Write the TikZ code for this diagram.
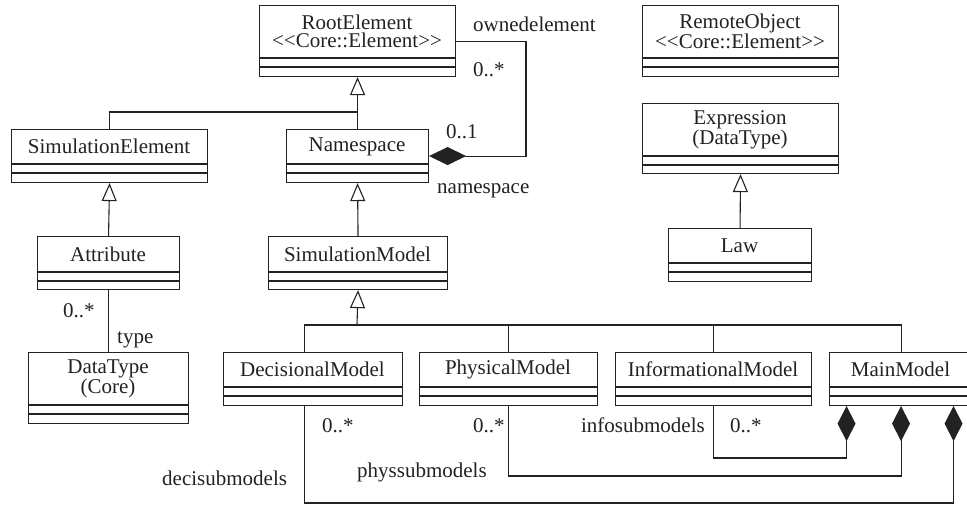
\documentclass[tikz,border=0pt]{standalone}
\usepackage{fontspec}
\setmainfont{Liberation Serif}
\usetikzlibrary{arrows.meta}
\definecolor{ink}{HTML}{222222}
\tikzset{
  umlline/.style={line width=1.1pt, draw=ink},
  gen/.style={umlline, -{Triangle[open, length=18pt, width=15pt, fill=white]}},
  compH/.style={umlline, {Diamond[length=37pt, width=18pt, fill=ink]}-},
  compV/.style={umlline, {Diamond[length=35pt, width=18pt, fill=ink]}-},
  lbl/.style={font=\fontsize{21}{18}\selectfont, inner sep=0pt, text=ink},
  classtext/.style={font=\fontsize{21}{18.5}\selectfont, align=center, inner sep=0pt, text=ink},
}
\newcommand\umlclass[8]{%
  \node[umlline, draw, rectangle, inner sep=0pt, anchor=north west,
        minimum width={(#4-#2)*1pt}, minimum height={(#7-#3)*1pt}] (#1) at (#2,#3) {};
  \draw[umlline] (#2,#5) -- (#4,#5) (#2,#6) -- (#4,#6);
  \node[classtext] (#1-t) at ({(#2+#4)/2},{(#3+#5)/2}) {#8};
}
\newcommand\stereo[1]{\textless{}\textless{}#1\textgreater{}\textgreater{}}
\begin{document}
\begin{tikzpicture}[x=1pt,y=-1pt]
\clip (0,0) rectangle (967,506);
\fill[white] (0,0) rectangle (967,506);
% classes
\umlclass{root}{259}{5}{455}{58}{67}{76}{RootElement\\\stereo{Core::Element}}
\umlclass{remote}{642}{5}{838}{58}{67}{76}{RemoteObject\\\stereo{Core::Element}}
\umlclass{expr}{642}{103}{838}{156}{165}{173}{Expression\\(DataType)}
\umlclass{law}{668}{228}{811}{263}{272}{281}{Law}
\umlclass{simel}{11}{129}{207}{164}{173}{182}{SimulationElement}
\umlclass{ns}{286}{129}{428}{164}{173}{182}{Namespace}
\umlclass{attr}{37}{236}{179}{272}{281}{289}{Attribute}
\umlclass{sm}{268}{236}{447}{272}{281}{289}{SimulationModel}
\umlclass{dt}{28}{352}{188}{405}{414}{423}{DataType\\(Core)}
\umlclass{dec}{223}{352}{402}{387}{396}{405}{DecisionalModel}
\umlclass{pm}{419}{352}{597}{387}{396}{405}{PhysicalModel}
\umlclass{im}{615}{352}{811}{387}{396}{405}{InformationalModel}
\umlclass{mm}{829}{352}{972}{387}{396}{405}{MainModel}
% helper coordinates
\coordinate (g1) at (357,112);
\coordinate (g2) at (357,325);
\coordinate (c1) at (526,0);
\coordinate (r1) at (0,458);
\coordinate (r2) at (0,476);
\coordinate (r3) at (0,503);
% generalizations
\draw[umlline] (simel.north) |- (g1);
\draw[gen] (ns.north) -- (root.south);
\draw[gen] (attr.north) -- (simel.south);
\draw[gen] (sm.north) -- (ns.south);
\draw[gen] (g2) -- (sm.south);
\draw[umlline] ([xshift=-8.5pt]dec.north) |- (g2) -| (mm.north);
\draw[umlline] (pm.north) -- (pm.north |- g2);
\draw[umlline] (im.north) -- (im.north |- g2);
\draw[gen] (law.north) -- (expr.south);
% associations
\draw[umlline] (attr.south) -- (dt.north);
\draw[compH] (ns.east) -| (c1 |- root.east) -- (root.east);
\draw[compV] ([xshift=-54.5pt]mm.south) |- (im.south |- r1) -- (im.south);
\draw[compV] (mm.south) |- (pm.south |- r2) -- (pm.south);
\draw[compV] ([xshift=52.5pt]mm.south) |- ([xshift=-8.5pt]dec.south |- r3) -- ([xshift=-8.5pt]dec.south);
% labels
\node[lbl, anchor=base west] (l1) at (473,31) {ownedelement};
\node[lbl, anchor=base west] (l2) at (473,76) {0..*};
\node[lbl, anchor=base west] (l3) at (446,138) {0..1};
\node[lbl, anchor=base west] (l4) at (437,193) {namespace};
\node[lbl, anchor=base west] (l5) at (63,317) {0..*};
\node[lbl, anchor=base west] (l6) at (117,343) {type};
\node[lbl, anchor=base west] (l7) at (322,432) {0..*};
\node[lbl, anchor=base west] (l8) at (473,432) {0..*};
\node[lbl, anchor=base east] (l9) at (705,432) {infosubmodels};
\node[lbl, anchor=base west] (l10) at (730,432) {0..*};
\node[lbl, anchor=base west] (l11) at (357,477) {physsubmodels};
\node[lbl, anchor=base west] (l12) at (162,485) {decisubmodels};
\end{tikzpicture}
\end{document}
